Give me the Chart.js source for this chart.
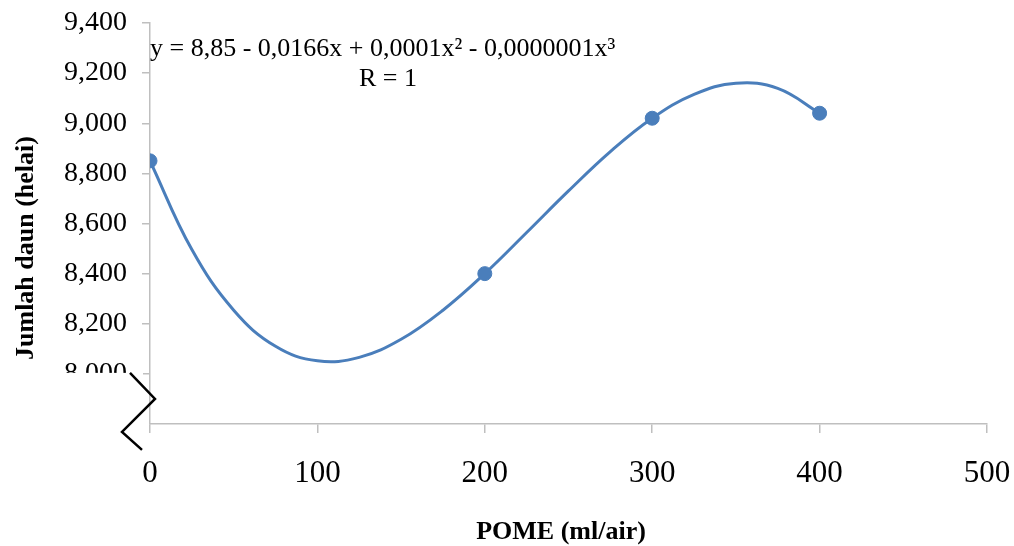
<!DOCTYPE html>
<html>
<head>
<meta charset="utf-8">
<script src="https://cdn.jsdelivr.net/npm/chart.js@4.4.1/dist/chart.umd.min.js"></script>
<style>
  html, body { margin:0; padding:0; background:#fff; }
  #wrap { width:1014px; height:546px; }
</style>
</head>
<body>
<div id="wrap"><canvas id="chart" width="1014" height="546"></canvas></div>
<script>
// observed points (POME dose vs leaf count)
const pomeDoses = [0, 200, 300, 400];
const leafCounts = [8850, 8400, 9020, 9040];

// polynomial trendline
const trendX = [0, 25, 50, 75, 100, 125, 150, 175, 200, 225, 250, 275, 300, 325, 350, 375, 400];
const trendY = [8850, 8496, 8254, 8110, 8052, 8066, 8138, 8254, 8400, 8564, 8730, 8887, 9020, 9115, 9160, 9139, 9040];

const xTicks = [0, 100, 200, 300, 400, 500];
const yTicks = [8000, 8200, 8400, 8600, 8800, 9000, 9200, 9400];

const equationText = 'y = 8,85 - 0,0166x + 0,0001x\u00B2 - 0,0000001x\u00B3';
const rText = 'R = 1';
const xTitle = 'POME (ml/air)';
const yTitle = 'Jumlah daun (helai)';

const BLUE = '#4a7ebb';
const AXIS = '#bfbfbf';
const SERIF = '"Liberation Serif", "Times New Roman", serif';

const fmt = v => Number(v).toLocaleString('en-US');

// texts + axis break
const extras = {
  id: 'extras',
  afterDraw(c){
    const ctx = c.ctx, x = c.scales.x, y = c.scales.y;
    ctx.save();
    const y0 = y.getPixelForValue(8000), l = x.left;
    // the break hides the lower half of the 8,000 label
    ctx.fillStyle = '#fff';
    ctx.fillRect(55, y0 - 1, l - 62, 24);
    // axis break zigzag
    ctx.strokeStyle = '#000'; ctx.lineWidth = 2.5;
    ctx.beginPath();
    ctx.moveTo(l - 20, y0 - 1);
    ctx.lineTo(l + 5, y0 + 25);
    ctx.lineTo(l - 28, y0 + 58);
    ctx.lineTo(l - 8, y0 + 76);
    ctx.stroke();

    ctx.fillStyle = '#000';
    ctx.font = '26px ' + SERIF;
    ctx.textBaseline = 'alphabetic';
    ctx.textAlign = 'left';
    ctx.fillText(equationText, l, 56);
    ctx.textAlign = 'center';
    ctx.fillText(rText, 388, 86);

    ctx.font = 'bold 26px ' + SERIF;
    ctx.fillText(xTitle, 561, 539);
    ctx.translate(33, 248);
    ctx.rotate(-Math.PI / 2);
    ctx.fillText(yTitle, 0, 0);
    ctx.restore();
  }
};

new Chart(document.getElementById('chart'), {
  type: 'scatter',
  data: {
    datasets: [
      {
        data: pomeDoses.map((x, i) => ({ x, y: leafCounts[i] })),
        backgroundColor: BLUE, borderColor: BLUE,
        pointRadius: 7, pointHoverRadius: 7, order: 0
      },
      {
        type: 'line',
        data: trendX.map((x, i) => ({ x, y: trendY[i] })),
        borderColor: BLUE, borderWidth: 3, pointRadius: 0,
        tension: 0.4, fill: false, order: 1
      }
    ]
  },
  plugins: [extras],
  options: {
    responsive: false,
    animation: false,
    layout: { padding: { left: 0, right: 27, top: 23, bottom: 0 } },
    plugins: { legend: { display: false }, tooltip: { enabled: false } },
    scales: {
      x: {
        type: 'linear', min: 0, max: 500,
        afterBuildTicks: s => { s.ticks = xTicks.map(v => ({ value: v })); },
        afterFit: s => { s.height = 122; s.paddingLeft = 0; s.paddingRight = 0; },
        border: { color: AXIS, width: 1.5 },
        grid: { drawOnChartArea: false, tickLength: 9, color: AXIS, lineWidth: 1.5 },
        ticks: { color: '#000', padding: 22, font: { family: SERIF, size: 31 }, maxRotation: 0 }
      },
      y: {
        min: 7800, max: 9400,
        afterBuildTicks: s => { s.ticks = [7800].concat(yTicks).map(v => ({ value: v })); },
        afterFit: s => { s.width = 150; s.paddingTop = 0; s.paddingBottom = 0; },
        border: { color: AXIS, width: 1.5 },
        grid: {
          drawOnChartArea: false, tickLength: 8, lineWidth: 1.5,
          color: ctx => (ctx.tick && ctx.tick.value === 7800) ? 'rgba(0,0,0,0)' : AXIS
        },
        ticks: {
          color: '#000', padding: 15, font: { family: SERIF, size: 28 },
          callback: v => v < 8000 ? '' : fmt(v)
        }
      }
    }
  }
});
</script>
</body>
</html>
